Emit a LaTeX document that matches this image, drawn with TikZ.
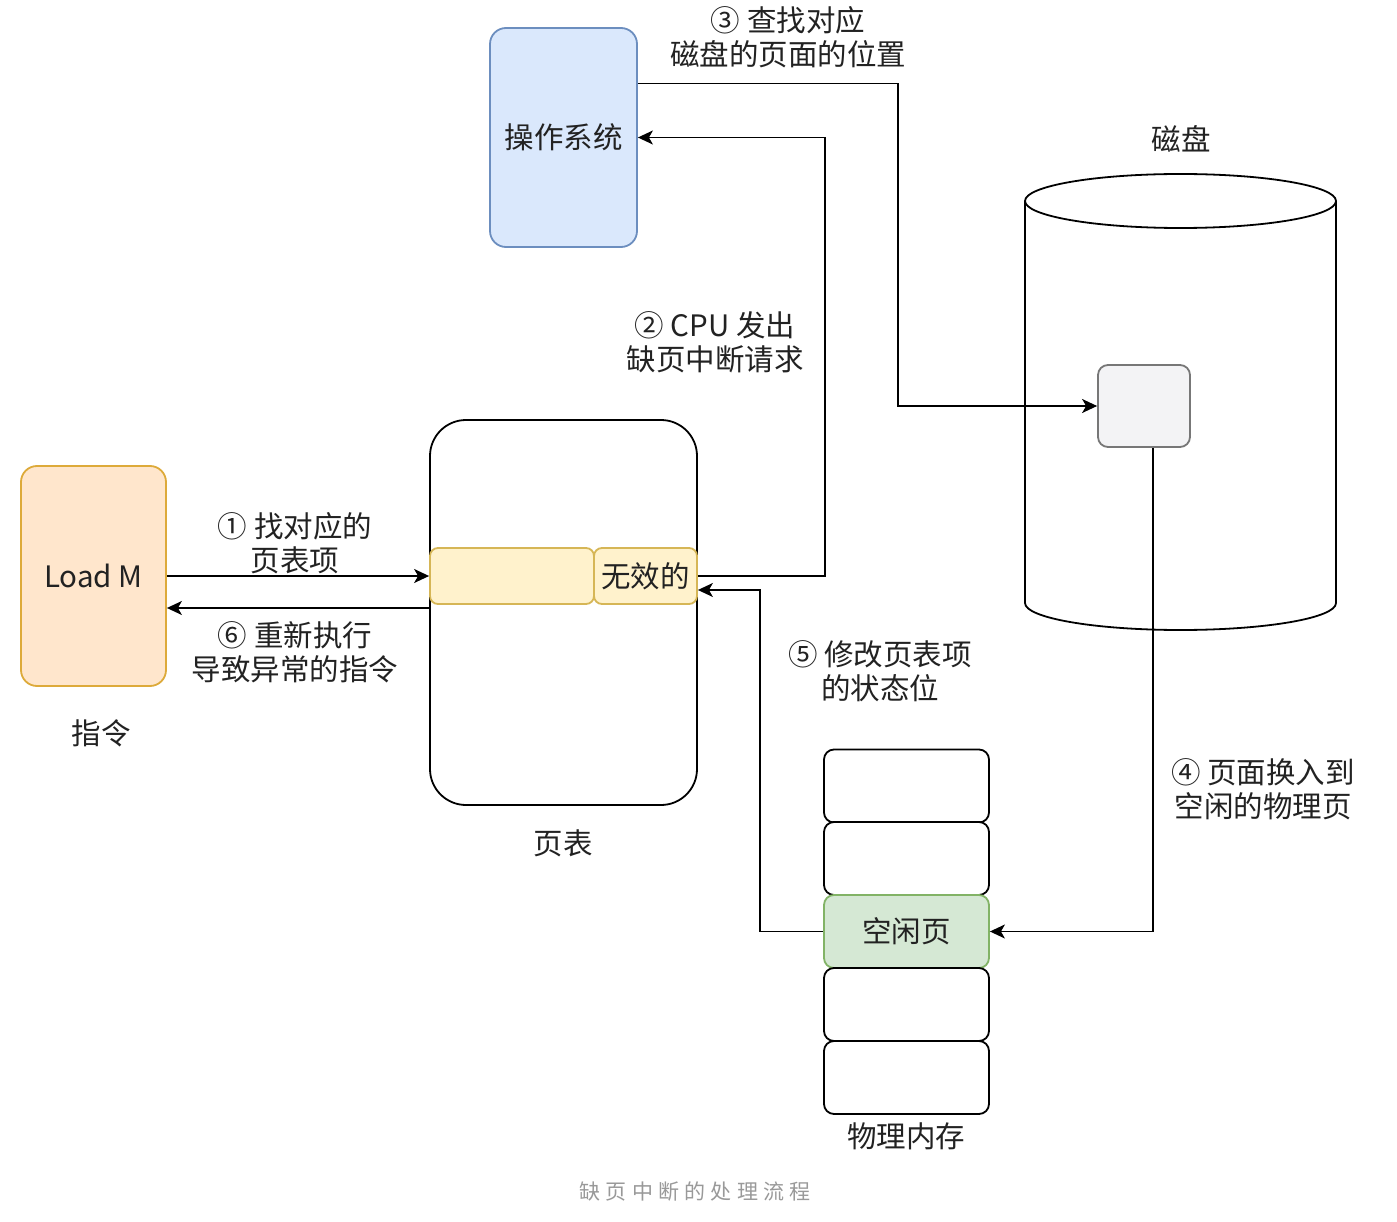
\documentclass[tikz,border=0pt]{standalone}
\usepackage{fontspec}
\setmainfont{Noto Sans CJK SC}
\usetikzlibrary{arrows.meta,calc}
\definecolor{blueF}{HTML}{DAE8FC}
\definecolor{blueD}{HTML}{6C8EBF}
\definecolor{orangeF}{HTML}{FFE6CC}
\definecolor{orangeD}{HTML}{DDAA3A}
\definecolor{yellowF}{HTML}{FFF2CC}
\definecolor{yellowD}{HTML}{D6B656}
\definecolor{greenF}{HTML}{D5E8D4}
\definecolor{greenD}{HTML}{82B366}
\definecolor{greyF}{HTML}{F3F3F5}
\definecolor{greyD}{HTML}{777777}
\definecolor{txt}{HTML}{222222}
\definecolor{capt}{HTML}{999999}
\begin{document}
\begin{tikzpicture}[x=1pt,y=-1pt,
  box/.style={draw,line width=1.8pt,text=txt,inner sep=0pt,
    font=\fontsize{29.5pt}{34pt}\selectfont},
  lbl/.style={text=txt,align=center,inner sep=0pt,
    font=\fontsize{29.5pt}{34pt}\selectfont},
  arr/.style={draw=black,line width=1.6pt,-{Stealth[length=15pt,width=14pt,inset=4pt]}},
  cell/.style={box,draw=black,fill=white,rounded corners=10pt,minimum width=165pt,minimum height=73pt}
]
\useasboundingbox (0,0) rectangle (1397,1222);
\fill[white] (0,0) rectangle (1397,1222);

% operating system
\node[box,fill=blueF,draw=blueD,rounded corners=16pt,minimum width=147pt,minimum height=219pt] (os) at (563.5,137.5) {操作系统};
\node[lbl] (l3) at (788,37) {③ 查找对应\\磁盘的页面的位置};

% disk
\node[lbl] (disklbl) at (1181,139) {磁盘};
\begin{scope}[line width=1.8pt]
\filldraw[fill=white] (1025,201) -- (1025,603) arc[start angle=180,end angle=360,x radius=155.5pt,y radius=27pt] -- (1336,201);
\draw[fill=white] (1180.5,201) ellipse[x radius=155.5pt,y radius=27pt];
\end{scope}
\node[box,fill=greyF,draw=greyD,rounded corners=10pt,minimum width=92pt,minimum height=82pt] (blk) at (1144,406) {};

% instruction
\node[box,fill=orangeF,draw=orangeD,rounded corners=16pt,minimum width=145pt,minimum height=220pt] (load) at (93.5,576) {Load M};
\node[lbl] (instr) at (101,733) {指令};

% page table
\node[box,draw=black,fill=white,rounded corners=36pt,minimum width=267pt,minimum height=385pt] (pt) at (563.5,612.5) {};
\node[lbl] (ptlbl) at (563,843) {页表};
\node[box,fill=yellowF,draw=yellowD,rounded corners=8pt,minimum width=164pt,minimum height=56pt] (ent) at (512,576) {};
\node[box,fill=yellowF,draw=yellowD,rounded corners=8pt,minimum width=103pt,minimum height=56pt] (inv) at (645.5,576) {无效的};

% physical memory
\node[cell] (m1) at (906.5,786) {};
\node[cell] (m2) at (906.5,858.5) {};
\node[cell,fill=greenF,draw=greenD] (free) at (906.5,931.5) {空闲页};
\node[cell] (m4) at (906.5,1004.5) {};
\node[cell] (m5) at (906.5,1077.5) {};
\node[lbl] (memlbl) at (906,1136) {物理内存};

% connectors
\draw[arr] (load.east) -- (load.east -| pt.west);
\node[lbl] (l1) at (295,543) {① 找对应的\\页表项};
\draw[arr] ([yshift=-32pt]load.east -| pt.west) -- ([yshift=-32pt]load.east);
\node[lbl] (l6) at (295,652) {⑥ 重新执行\\导致异常的指令};

\draw[arr] (inv.east) -- ++(127,0) |- (os.east);
\node[lbl] (l2) at (715,342) {② \textit{CPU} 发出\\缺页中断请求};

\draw[arr] ([yshift=54pt]os.east) -- ++(260,0) |- (blk.west);

\draw[arr] ([xshift=9pt]blk.south) |- (free.east);
\node[lbl] (l4) at (1263,789) {④ 页面换入到\\空闲的物理页};

\draw[arr] (free.west) -- ++(-63,0) |- ([yshift=-14pt]inv.east);
\node[lbl] (l5) at (880,671) {⑤ 修改页表项\\的状态位};

% caption
\node[text=capt,inner sep=0pt,font=\fontsize{21pt}{25pt}\selectfont\addfontfeatures{LetterSpace=25}] (cap) at (695,1192) {缺页中断的处理流程};
\end{tikzpicture}
\end{document}
